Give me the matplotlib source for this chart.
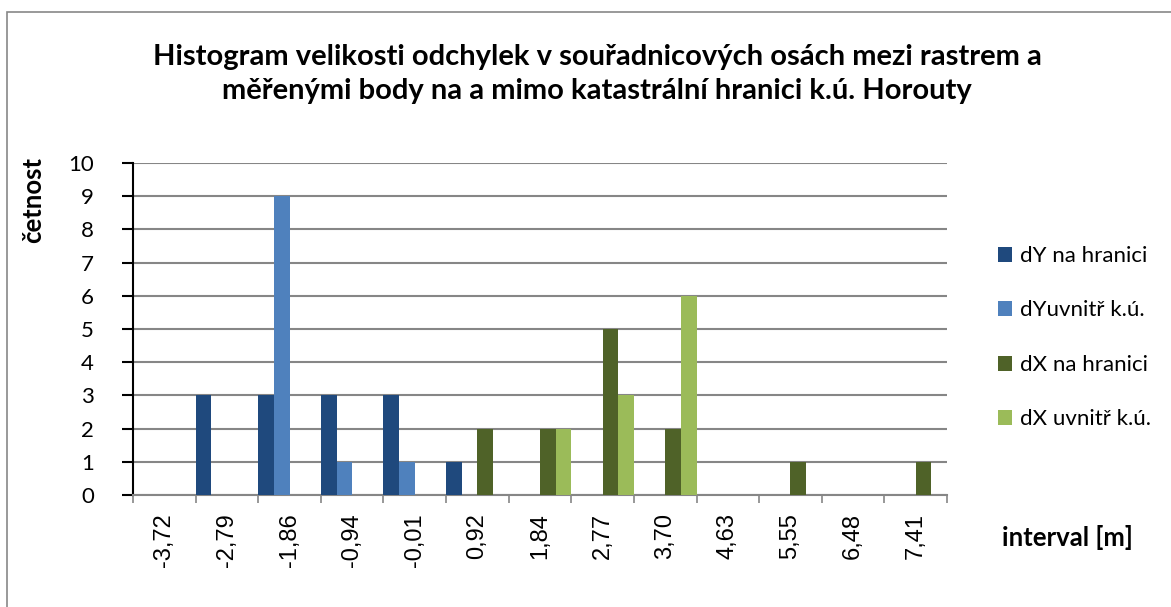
import numpy as np
import matplotlib.pyplot as plt
from matplotlib.patches import Rectangle

intervals = ['-3,72', '-2,79', '-1,86', '-0,94', '-0,01', '0,92', '1,84',
             '2,77', '3,70', '4,63', '5,55', '6,48', '7,41']
dY_hranice = [0, 3, 3, 3, 3, 1, 0, 0, 0, 0, 0, 0, 0]
dY_uvnitr = [0, 0, 9, 1, 1, 0, 0, 0, 0, 0, 0, 0, 0]
dX_hranice = [0, 0, 0, 0, 0, 2, 2, 5, 2, 0, 1, 0, 1]
dX_uvnitr = [0, 0, 0, 0, 0, 0, 2, 3, 6, 0, 0, 0, 0]

series = [
    ('dY na hranici', dY_hranice, '#1F497D'),
    ('dYuvnitř k.ú.', dY_uvnitr, '#4F81BD'),
    ('dX na hranici', dX_hranice, '#4F6228'),
    ('dX uvnitř k.ú.', dX_uvnitr, '#9BBB59'),
]

W, H = 1171, 607
fig = plt.figure(figsize=(W / 100, H / 100), dpi=100)
ax = fig.add_axes([133 / W, 1 - 495 / H, (947 - 133) / W, (495 - 163) / H])

x = np.arange(len(intervals))
bw = 0.25
for i, (name, vals, col) in enumerate(series):
    ax.bar(x - 0.5 + bw * (i + 0.5), vals, width=bw, color=col,
           label=name, zorder=3, linewidth=0)

ax.set_xlim(-0.5, len(intervals) - 0.5)
ax.set_ylim(0, 10)
ax.set_yticks(range(0, 11))
ax.grid(axis='y', color='#868686', linewidth=1.5, zorder=0)

# category boundaries as ticks, labels in the middle
ax.set_xticks(np.arange(len(intervals) + 1) - 0.5)
ax.set_xticklabels([])
ax.set_xticks(x, minor=True)
ax.set_xticklabels(intervals, minor=True, rotation=90, fontsize=17,
                   family='Liberation Sans')
ax.tick_params(axis='x', which='major', length=6, width=1.2, color='#868686')
ax.tick_params(axis='x', which='minor', length=0, pad=13)
ax.tick_params(axis='y', length=8, width=1.5, color='black', pad=20)
for lab in ax.get_yticklabels():
    lab.set_fontfamily('Lato')
    lab.set_fontsize(16)

for s in ['top', 'right']:
    ax.spines[s].set_visible(False)
ax.spines['left'].set_linewidth(1.5)
ax.spines['left'].set_color('black')
ax.spines['bottom'].set_linewidth(1.5)
ax.spines['bottom'].set_color('#868686')

fig.text(33 / W, 1 - 200 / H, 'četnost', rotation=90, ha='center',
         va='center', fontsize=18.5, fontweight='bold', family='Lato')
fig.text(1067 / W, 1 - 538 / H, 'interval [m]', ha='center', va='center',
         fontsize=18.5, fontweight='bold', family='Lato')

fig.text(597 / W, 1 - 74 / H,
         'Histogram velikosti odchylek v souřadnicových osách mezi rastrem a\n'
         'měřenými body na a mimo katastrální hranici k.ú. Horouty',
         ha='center', va='center', fontsize=21, fontweight='bold',
         family='Lato', linespacing=1.42)

leg = fig.legend(loc='upper left', bbox_to_anchor=(978 / W, 1 - 226 / H),
                 frameon=False, handlelength=0.65, handleheight=0.65,
                 handletextpad=0.35, labelspacing=1.55,
                 prop={'family': 'Lato', 'size': 16})

fig.patches.append(Rectangle((7 / W, -0.1), 1.2, 1 - 12 / H + 0.1,
                             transform=fig.transFigure, fill=False,
                             edgecolor='#878787', linewidth=1.2))

plt.savefig('out.png', dpi=100)
